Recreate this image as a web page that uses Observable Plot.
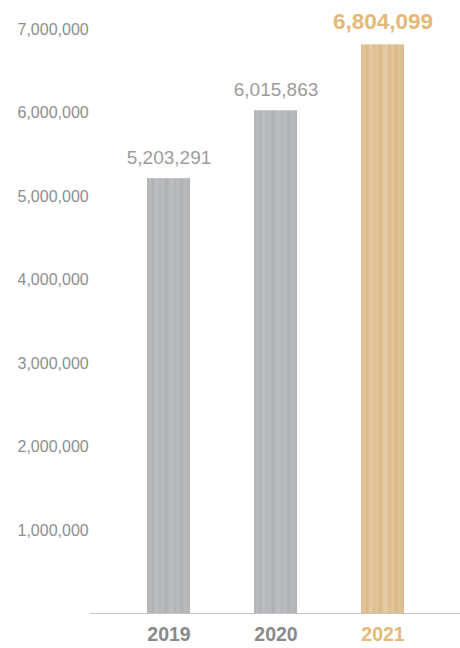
<!DOCTYPE html>
<html>
<head>
<meta charset="utf-8">
<script src="https://cdn.jsdelivr.net/npm/d3@7"></script>
<script src="https://cdn.jsdelivr.net/npm/@observablehq/plot@0.6"></script>
<style>
  html, body { margin: 0; padding: 0; background: #fff; }
  svg { display: block; font-family: "Liberation Sans", Arial, Helvetica, sans-serif; }
</style>
</head>
<body>
<div id="chart"></div>
<script>
const years = ["2019", "2020", "2021"];
const values = [5203291, 6015863, 6804099];
const yTicks = [1000000, 2000000, 3000000, 4000000, 5000000, 6000000, 7000000];
const highlightYear = "2021";

const data = years.map((y, i) => ({year: y, value: values[i], hi: y === highlightYear}));
const fmt = d3.format(",");

const chart = Plot.plot({
  width: 460,
  height: 648,
  marginTop: 28,
  marginBottom: 35,
  marginLeft: 90,
  marginRight: 0,
  x: {domain: years, range: [146, 404], paddingInner: 0.6, paddingOuter: 0, axis: null},
  y: {domain: [0, 7000000], axis: null},
  marks: [
    Plot.barY(data, {x: "year", y: "value", fill: d => d.hi ? "url(#goldGrad)" : "url(#grayGrad)"}),
    Plot.ruleY([0], {stroke: "#c4c4c4", strokeWidth: 1}),
    Plot.text(yTicks, {y: d => d, dy: 1, frameAnchor: "left", dx: -73, textAnchor: "start", text: d => fmt(d), fill: "#8e8e8e", fontSize: 16}),
    Plot.text(data.filter(d => !d.hi), {x: "year", y: "value", text: d => fmt(d.value), dy: -21, fill: "#9c9c9c", fontSize: 19}),
    Plot.text(data.filter(d => d.hi), {x: "year", y: "value", text: d => fmt(d.value), dy: -23, fill: "#e3b978", fontSize: 22.5, fontWeight: "bold"}),
    Plot.text(data, {x: "year", frameAnchor: "bottom", dy: 27, text: "year", fill: d => d.hi ? "#e3b978" : "#8a8a8a", fontSize: 19.5, fontWeight: "bold"})
  ]
});

// streaky textures for the bars
const ns = "http://www.w3.org/2000/svg";
const defs = document.createElementNS(ns, "defs");
function grad(id, stops) {
  const g = document.createElementNS(ns, "linearGradient");
  g.setAttribute("id", id);
  g.setAttribute("x1", "0"); g.setAttribute("x2", "1");
  g.setAttribute("y1", "0"); g.setAttribute("y2", "0");
  stops.forEach(([o, c]) => {
    const s = document.createElementNS(ns, "stop");
    s.setAttribute("offset", o);
    s.setAttribute("stop-color", c);
    g.appendChild(s);
  });
  defs.appendChild(g);
}
grad("grayGrad", [
  [0, "#b3b4b8"], [0.08, "#babbbf"], [0.14, "#afb0b4"], [0.22, "#bebfc3"], [0.3, "#b6b7bb"],
  [0.38, "#b9babe"], [0.45, "#adaeb2"], [0.5, "#b8b9bd"], [0.58, "#bfc0c4"], [0.65, "#b3b4b8"],
  [0.72, "#bcbdc1"], [0.8, "#b0b1b5"], [0.88, "#babbbf"], [0.94, "#b5b6ba"], [1, "#b1b2b6"]
]);
grad("goldGrad", [
  [0, "#dcbc8e"], [0.07, "#e4c89f"], [0.14, "#d9b886"], [0.22, "#e6cca5"], [0.3, "#debf92"],
  [0.38, "#e2c59a"], [0.45, "#d8b584"], [0.5, "#e1c396"], [0.58, "#e7cea8"], [0.66, "#dcbb8c"],
  [0.74, "#e3c79d"], [0.82, "#d9b787"], [0.9, "#e1c499"], [1, "#dab98a"]
]);
chart.insertBefore(defs, chart.firstChild);

document.getElementById("chart").appendChild(chart);
</script>
</body>
</html>
